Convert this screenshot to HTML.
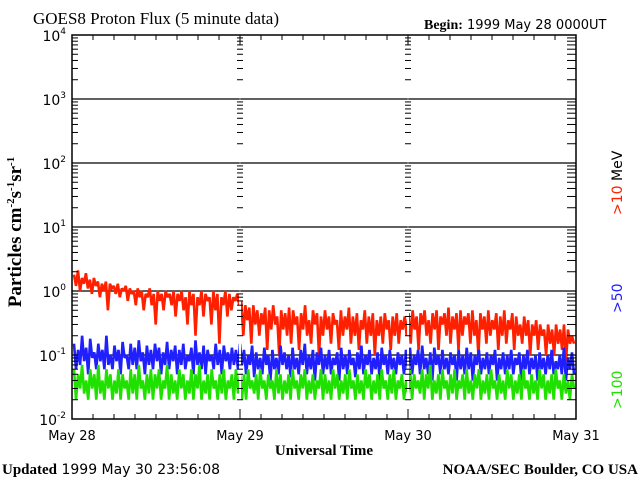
<!DOCTYPE html>
<html><head><meta charset="utf-8"><style>
body{margin:0;background:#fff}
svg{display:block}
.s{font-family:"DejaVu Sans","Liberation Sans",sans-serif}
.r{font-family:"Liberation Serif","DejaVu Serif",serif}
</style></head><body>
<svg id="c" width="640" height="480" viewBox="0 0 640 480">
<text x="33" y="24" class="r" font-size="17">GOES8 Proton Flux (5 minute data)</text>
<text x="424" y="29" font-size="14"><tspan class="r" font-weight="bold">Begin:</tspan><tspan class="s" font-size="13"> 1999 May 28 0000UT</tspan></text>
<text transform="translate(21,232) rotate(-90)" text-anchor="middle" class="r" font-weight="bold" font-size="19">Particles cm<tspan font-size="11" dy="-7">-2</tspan><tspan dy="7">s</tspan><tspan font-size="11" dy="-7">-1</tspan><tspan dy="7">sr</tspan><tspan font-size="11" dy="-7">-1</tspan></text>
<text x="324" y="455" text-anchor="middle" class="r" font-weight="bold" font-size="15">Universal Time</text>
<text x="2" y="474" font-size="15"><tspan class="r" font-weight="bold">Updated</tspan><tspan class="s" font-size="14"> 1999 May 30 23:56:08</tspan></text>
<text x="638" y="474" text-anchor="end" class="r" font-weight="bold" font-size="15">NOAA/SEC Boulder, CO USA</text>
<text transform="translate(622,215) rotate(-90)" class="s" font-size="14"><tspan fill="#ff2000">&gt;10</tspan><tspan fill="#000">  MeV</tspan></text>
<text transform="translate(622,313) rotate(-90)" class="s" font-size="14" fill="#2020ff">&gt;50</text>
<text transform="translate(622,409) rotate(-90)" class="s" font-size="14" fill="#20e000">&gt;100</text>
<g id="plot"></g>
</svg>
<script>
const xLabels=["May 28","May 29","May 30","May 31"];
const yExp=[4,3,2,1,0,-1,-2];
const red=[1.8,1.2,2.1,1.0,1.6,1.3,1.9,1.1,1.5,0.9,1.6,1.2,1.4,0.8,1.3,1.0,1.4,0.5,1.3,1.1,1.2,0.9,1.3,0.8,1.1,1.0,1.2,0.7,1.1,0.9,1.0,0.6,1.1,0.8,1.0,0.5,0.9,0.8,1.1,0.6,0.9,0.3,1.0,0.7,0.9,0.5,1.0,0.8,0.9,0.6,1.0,0.4,0.9,0.7,1.0,0.5,0.8,0.3,1.0,0.6,0.9,0.2,0.8,0.6,1.0,0.4,0.9,0.7,0.8,0.3,1.0,0.5,0.9,0.15,0.8,0.6,1.0,0.4,0.9,0.5,0.8,0.7,0.9,0.6,
0.7,0.2,0.6,0.35,0.55,0.15,0.6,0.3,0.5,0.2,0.45,0.3,0.55,0.12,0.5,0.25,0.6,0.3,0.4,0.1,0.5,0.25,0.45,0.2,0.55,0.15,0.5,0.3,0.4,0.12,0.45,0.25,0.6,0.2,0.35,0.15,0.5,0.3,0.45,0.1,0.4,0.2,0.5,0.25,0.4,0.15,0.45,0.3,0.35,0.12,0.5,0.2,0.4,0.25,0.55,0.15,0.4,0.2,0.45,0.12,0.35,0.25,0.5,0.15,0.4,0.2,0.45,0.1,0.35,0.2,0.4,0.15,0.45,0.25,0.35,0.12,0.4,0.2,0.45,0.15,0.35,0.25,0.4,0.2,
0.45,0.15,0.5,0.25,0.4,0.12,0.45,0.3,0.5,0.2,0.35,0.15,0.45,0.25,0.5,0.12,0.4,0.3,0.45,0.2,0.55,0.15,0.4,0.25,0.45,0.12,0.5,0.2,0.4,0.3,0.45,0.15,0.5,0.2,0.35,0.1,0.45,0.25,0.4,0.15,0.5,0.2,0.35,0.25,0.45,0.12,0.4,0.2,0.5,0.15,0.35,0.25,0.45,0.12,0.4,0.2,0.3,0.15,0.4,0.2,0.35,0.1,0.3,0.2,0.35,0.12,0.3,0.2,0.25,0.1,0.3,0.15,0.25,0.1,0.3,0.15,0.25,0.12,0.3,0.08,0.25,0.15,0.2,0.15];
const blue=[0.15,0.06,0.12,0.07,0.2,0.08,0.13,0.05,0.18,0.09,0.11,0.06,0.15,0.08,0.12,0.06,0.2,0.07,0.1,0.06,0.14,0.08,0.12,0.05,0.16,0.09,0.1,0.06,0.15,0.07,0.13,0.06,0.17,0.08,0.11,0.05,0.14,0.07,0.12,0.06,0.15,0.08,0.13,0.05,0.11,0.07,0.16,0.06,0.12,0.08,0.14,0.05,0.12,0.07,0.15,0.06,0.1,0.08,0.13,0.05,0.17,0.07,0.11,0.06,0.14,0.05,0.12,0.08,0.1,0.06,0.15,0.07,0.12,0.05,0.14,0.08,0.11,0.06,0.13,0.07,0.12,0.06,0.15,0.07,
0.12,0.05,0.1,0.07,0.14,0.045,0.11,0.06,0.09,0.05,0.13,0.07,0.1,0.04,0.12,0.06,0.09,0.05,0.14,0.07,0.11,0.06,0.1,0.045,0.13,0.06,0.09,0.05,0.12,0.07,0.15,0.05,0.1,0.06,0.12,0.04,0.11,0.07,0.13,0.05,0.1,0.06,0.12,0.05,0.09,0.07,0.11,0.04,0.13,0.06,0.1,0.05,0.12,0.07,0.09,0.045,0.11,0.06,0.14,0.05,0.1,0.07,0.12,0.05,0.09,0.06,0.11,0.04,0.13,0.07,0.1,0.05,0.12,0.06,0.09,0.05,0.11,0.07,0.1,0.05,0.12,0.06,
0.13,0.05,0.1,0.07,0.12,0.05,0.14,0.06,0.09,0.05,0.11,0.04,0.13,0.07,0.1,0.05,0.12,0.06,0.09,0.05,0.11,0.07,0.1,0.04,0.12,0.06,0.1,0.05,0.13,0.06,0.11,0.04,0.1,0.07,0.12,0.05,0.09,0.06,0.11,0.05,0.1,0.07,0.12,0.04,0.09,0.06,0.11,0.05,0.1,0.06,0.12,0.05,0.09,0.07,0.11,0.04,0.1,0.06,0.12,0.05,0.09,0.06,0.1,0.04,0.11,0.06,0.09,0.05,0.1,0.06,0.12,0.05,0.08,0.06,0.1,0.05,0.13,0.04,0.09,0.06,0.11,0.05];
const green=[0.06,0.02,0.05,0.03,0.07,0.025,0.04,0.02,0.06,0.03,0.05,0.02,0.07,0.025,0.04,0.02,0.06,0.03,0.05,0.02,0.04,0.025,0.06,0.02,0.05,0.03,0.04,0.02,0.06,0.025,0.05,0.02,0.07,0.03,0.04,0.02,0.05,0.025,0.06,0.02,0.05,0.03,0.06,0.02,0.04,0.03,0.07,0.02,0.05,0.025,0.04,0.02,0.06,0.03,0.05,0.02,0.04,0.025,0.06,0.02,0.05,0.03,0.07,0.02,0.04,0.025,0.05,0.02,0.06,0.03,0.04,0.02,0.05,0.025,0.06,0.02,0.04,0.03,0.05,0.02,0.06,0.025,0.05,0.02,
0.05,0.02,0.06,0.03,0.04,0.025,0.05,0.02,0.06,0.03,0.04,0.02,0.05,0.03,0.04,0.02,0.06,0.025,0.05,0.02,0.04,0.025,0.05,0.02,0.06,0.03,0.04,0.02,0.05,0.03,0.06,0.02,0.04,0.025,0.05,0.02,0.04,0.03,0.06,0.02,0.05,0.025,0.04,0.02,0.06,0.03,0.05,0.02,0.04,0.025,0.05,0.02,0.06,0.03,0.04,0.02,0.05,0.025,0.04,0.02,0.06,0.03,0.05,0.02,0.04,0.025,0.05,0.02,0.06,0.03,0.04,0.02,0.05,0.025,0.06,0.02,0.04,0.03,0.05,0.02,0.04,0.025,
0.06,0.02,0.05,0.03,0.04,0.025,0.06,0.02,0.05,0.03,0.07,0.02,0.04,0.025,0.05,0.02,0.06,0.03,0.04,0.02,0.05,0.025,0.06,0.02,0.04,0.03,0.05,0.02,0.06,0.025,0.04,0.02,0.05,0.03,0.06,0.02,0.04,0.025,0.05,0.02,0.06,0.03,0.04,0.02,0.05,0.025,0.04,0.02,0.06,0.03,0.05,0.02,0.04,0.025,0.05,0.02,0.06,0.03,0.04,0.02,0.05,0.025,0.04,0.02,0.06,0.03,0.05,0.02,0.04,0.025,0.05,0.02,0.06,0.03,0.04,0.02,0.05,0.025,0.04,0.02,0.05,0.03];
const X0=72,X1=576,Y0=419,Y1=35;
const ns="http://www.w3.org/2000/svg";
const g=document.getElementById('plot');
function y(v){return Y0-(Math.log10(v)+2)*64;}
function xi(i,n){return X0+1+(i+0.5)*(X1-X0-2)/n;}
function el(t,a){const e=document.createElementNS(ns,t);for(const k in a)e.setAttribute(k,a[k]);g.appendChild(e);return e;}
function series(arr,col,name){const p=arr.map((v,i)=>xi(i,arr.length).toFixed(1)+","+y(v).toFixed(1)).join(" ");
const e=el('polyline',{points:p,fill:'none',stroke:col,'stroke-width':2.6,'stroke-linejoin':'miter','stroke-miterlimit':2});

}
yExp.forEach(k=>{const yy=y(Math.pow(10,k));
if(k<4&&k>-2){const l=el('line',{x1:X0,x2:X1,y1:yy,y2:yy,stroke:'#000','stroke-width':1.3});

}
const t=el('text',{x:66,y:yy+6,'text-anchor':'end','font-size':14,class:'s'});


t.innerHTML='10<tspan font-size="9" dy="-7">'+k+'</tspan>';});
series(red,'#ff2000','series-10mev');
series(blue,'#2020ff','series-50mev');
series(green,'#20e000','series-100mev');
const dayW=(X1-X0)/3;
for(let d=1;d<3;d++){const xx=X0+d*dayW;el('line',{x1:xx,x2:xx,y1:Y1,y2:Y0,stroke:'#fff','stroke-width':2});}
for(let k=-2;k<4;k++)for(let m=1;m<10;m++){const yy=y(m*Math.pow(10,k));
[[X0,6],[X1,-9]].forEach(([xx,L])=>el('line',{x1:xx,x2:xx+L,y1:yy,y2:yy,stroke:'#000','stroke-width':1}));
for(let d=1;d<3;d++){const xx=X0+d*dayW;el('line',{x1:xx-3,x2:xx+3,y1:yy,y2:yy,stroke:'#000','stroke-width':1});}}
for(let h=0;h<=24;h++){const xx=X0+h*dayW/8;const L=h%8==0?10:5;
el('line',{x1:xx,x2:xx,y1:Y0,y2:Y0-L,stroke:'#000','stroke-width':1});
el('line',{x1:xx,x2:xx,y1:Y1,y2:Y1+L,stroke:'#000','stroke-width':1});}
xLabels.forEach((s,i)=>{const t=el('text',{x:X0+i*dayW,y:440,'text-anchor':'middle','font-size':13,class:'s'});


t.textContent=s;});
const f=el('rect',{x:X0,y:Y1,width:X1-X0,height:Y0-Y1,fill:'none',stroke:'#000','stroke-width':1.5});


</script>
</body></html>
